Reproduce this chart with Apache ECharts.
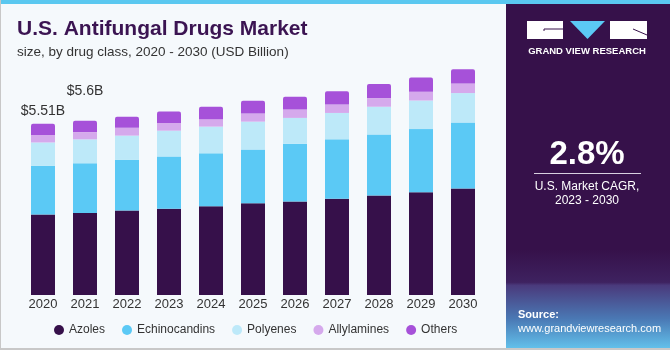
<!DOCTYPE html>
<html>
<head>
<meta charset="utf-8">
<script src="https://cdn.jsdelivr.net/npm/echarts@6/dist/echarts.min.js"></script>
<style>
	html, body { margin: 0; padding: 0; background: #f5f9fc; }
	#main { width: 670px; height: 350px; }
</style>
</head>
<body>
<div id="main"></div>
<script>
// 数据
const years = ['2020', '2021', '2022', '2023', '2024', '2025', '2026', '2027', '2028', '2029', '2030'];
const azoles = [2.59, 2.64, 2.72, 2.78, 2.86, 2.95, 3.01, 3.10, 3.20, 3.31, 3.43];
const echinocandins = [1.57, 1.60, 1.63, 1.68, 1.70, 1.73, 1.86, 1.91, 1.97, 2.03, 2.12];
const polyenes = [0.75, 0.77, 0.78, 0.83, 0.86, 0.90, 0.83, 0.85, 0.89, 0.92, 0.95];
const allylamines = [0.24, 0.235, 0.25, 0.25, 0.24, 0.26, 0.27, 0.27, 0.28, 0.28, 0.31];
const others = [0.36, 0.36, 0.36, 0.37, 0.40, 0.41, 0.41, 0.43, 0.45, 0.46, 0.46];
const totalLabels = ['$5.51B', '$5.6B'];

(function () {
	let myChart = echarts.init(document.getElementById('main'))
	const font = 'Liberation Sans, Arial, sans-serif'
	const colors = ['#36104a', '#5bc9f5', '#bde9f9', '#d5a9ec', '#a651d9']

	// 顶部两个柱子的总额标签
	const labelGaps = [6, 23]
	const othersData = others.map(function (v, i) {
		if (i < totalLabels.length) {
			return {
				value: v,
				label: {
					show: true,
					position: 'top',
					distance: labelGaps[i],
					formatter: totalLabels[i],
					color: '#333',
					fontSize: 14,
					fontFamily: font
				}
			}
		}
		return v
	})

	function seg(name, data, idx, extra) {
		return Object.assign({
			name: name,
			type: 'bar',
			stack: 'total',
			barWidth: 24,
			data: data,
			itemStyle: { color: colors[idx] }
		}, extra || {})
	}

	const option = {
		animation: false,
		backgroundColor: '#f5f9fc',
		color: colors,
		title: {
			text: 'U.S. Antifungal Drugs Market',
			subtext: 'size, by drug class, 2020 - 2030 (USD Billion)',
			left: 12,
			top: 14,
			itemGap: 5,
			textStyle: {
				color: '#3b1452',
				fontSize: 21,
				fontWeight: 'bold',
				fontFamily: font
			},
			subtextStyle: {
				color: '#333',
				fontSize: 13.5,
				fontFamily: font
			}
		},
		legend: {
			top: 319,
			left: 49,
			icon: 'circle',
			itemWidth: 10,
			itemHeight: 10,
			itemGap: 17,
			textStyle: { color: '#333', fontSize: 12, fontFamily: font },
			data: ['Azoles', 'Echinocandins', 'Polyenes', 'Allylamines', 'Others']
		},
		grid: {
			left: 22,
			width: 462,
			top: 62,
			bottom: 55
		},
		xAxis: {
			type: 'category',
			data: years,
			axisLine: { show: false },
			axisTick: { show: false },
			axisLabel: { color: '#333', fontSize: 13, margin: 3, fontFamily: font }
		},
		yAxis: {
			type: 'value',
			min: 0,
			max: 7.5,
			show: false,
			splitLine: { show: false }
		},
		series: [
			seg('Azoles', azoles, 0),
			seg('Echinocandins', echinocandins, 1),
			seg('Polyenes', polyenes, 2),
			seg('Allylamines', allylamines, 3),
			seg('Others', othersData, 4, { itemStyle: { color: colors[4], borderRadius: [2, 2, 0, 0] } })
		],
		graphic: [
			// 顶部蓝条
			{ type: 'rect', left: 0, top: 0, shape: { width: 670, height: 4 }, style: { fill: '#5ac8f0' }, z: 10 },
			// 边框
			{ type: 'rect', left: 0, top: 0, shape: { width: 1, height: 350 }, style: { fill: '#c8c8c8' }, z: 10 },
			{ type: 'rect', left: 0, top: 348, shape: { width: 670, height: 2 }, style: { fill: '#c8c8c8' }, z: 10 },
			// 右侧面板
			{ type: 'rect', left: 506, top: 4, shape: { width: 164, height: 344 }, style: { fill: '#36114a' }, z: 5 },
			{
				type: 'rect', left: 506, top: 250, shape: { width: 164, height: 98 }, z: 6,
				style: {
					fill: new echarts.graphic.LinearGradient(0, 0, 0, 1, [
						{ offset: 0, color: '#36114a' },
						{ offset: 0.33, color: '#3e2260' },
						{ offset: 0.36, color: '#4a3a7c' },
						{ offset: 0.7, color: '#4a78b4' },
						{ offset: 1, color: '#62c0ea' }
					])
				}
			},
			// logo
			{ type: 'rect', left: 527, top: 21, shape: { width: 36, height: 18 }, style: { fill: '#fff' }, z: 7 },
			{ type: 'polygon', shape: { points: [[570, 21], [605, 21], [587.5, 39]] }, style: { fill: '#5bc9f5' }, z: 7 },
			{ type: 'rect', left: 610, top: 21, shape: { width: 37, height: 18 }, style: { fill: '#fff' }, z: 7 },
			{ type: 'polyline', shape: { points: [[544, 31], [544, 29], [563, 29]] }, style: { stroke: '#36114a', lineWidth: 1, fill: null }, z: 8 },
			{ type: 'line', shape: { x1: 633, y1: 29, x2: 647, y2: 35 }, style: { stroke: '#36114a', lineWidth: 1 }, z: 8 },
			{
				type: 'text', x: 587, y: 51, z: 7,
				style: { text: 'GRAND VIEW RESEARCH', fill: '#fff', font: 'bold 9.5px ' + font, align: 'center', verticalAlign: 'middle' }
			},
			// CAGR
			{
				type: 'text', x: 587, y: 155, z: 7,
				style: { text: '2.8%', fill: '#fff', font: 'bold 33px ' + font, align: 'center', verticalAlign: 'middle' }
			},
			{ type: 'rect', left: 534, top: 173, shape: { width: 107, height: 1 }, style: { fill: '#d8d0e0' }, z: 7 },
			{
				type: 'text', x: 587, y: 187, z: 7,
				style: { text: 'U.S. Market CAGR,', fill: '#fff', font: '12px ' + font, align: 'center', verticalAlign: 'middle' }
			},
			{
				type: 'text', x: 587, y: 201, z: 7,
				style: { text: '2023 - 2030', fill: '#fff', font: '12px ' + font, align: 'center', verticalAlign: 'middle' }
			},
			// 来源
			{
				type: 'text', x: 518, y: 315, z: 7,
				style: { text: 'Source:', fill: '#fff', font: 'bold 11px ' + font, verticalAlign: 'middle' }
			},
			{
				type: 'text', x: 518, y: 329, z: 7,
				style: { text: 'www.grandviewresearch.com', fill: '#fff', font: '11px ' + font, verticalAlign: 'middle' }
			}
		]
	}
	myChart.setOption(option)
	window.addEventListener('resize', function () {
		myChart.resize();
	})
})();
</script>
</body>
</html>
